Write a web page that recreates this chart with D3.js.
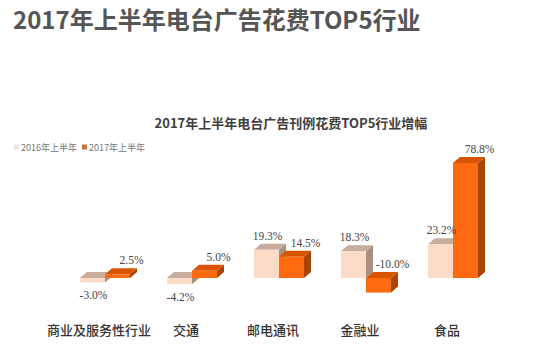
<!DOCTYPE html>
<html>
<head>
<meta charset="utf-8">
<script src="https://cdn.jsdelivr.net/npm/d3@7"></script>
<style>
  html, body { margin: 0; padding: 0; background: #ffffff; }
  svg { display: block; }
</style>
</head>
<body>
<svg id="chart" width="545" height="355"></svg>
<script>
const categories = ["商业及服务性行业", "交通", "邮电通讯", "金融业", "食品"];
const seriesNames = ["2016年上半年", "2017年上半年"];
const values2016 = [-3.0, -4.2, 19.3, 18.3, 23.2];
const values2017 = [2.5, 5.0, 14.5, -10.0, 78.8];
const mainTitle = "2017年上半年电台广告花费TOP5行业";
const chartTitle = "2017年上半年电台广告刊例花费TOP5行业增幅";

const svg = d3.select("#chart");
const W = 545, H = 355;
svg.append("rect").attr("width", W).attr("height", H).attr("fill", "#ffffff");

const cjk = "'Noto Sans CJK SC', 'Noto Sans', sans-serif";
const serif = "'Liberation Serif', 'DejaVu Serif', serif";

// Titles
svg.append("text").attr("x", 13).attr("y", 29)
  .attr("font-family", cjk).attr("font-weight", "bold").attr("font-size", 24)
  .attr("fill", "#555555").text(mainTitle);

svg.append("text").attr("x", 291).attr("y", 128)
  .attr("text-anchor", "middle")
  .attr("font-family", cjk).attr("font-weight", "bold").attr("font-size", 13)
  .attr("fill", "#404040").text(chartTitle);

// Scales
const x = d3.scaleBand().domain(categories).range([61.5, 496.5]).padding(0);
const xs = d3.scaleBand().domain(seriesNames).range([-25, 25]).padding(0);
const y = d3.scaleLinear().domain([0, 78.8]).range([278, 163]);

const depthX = 7, depthY = 6;
const palettes = [
  { front: "#fcdcc7", top: "#c7ad9b", side: "#a98f7f", legend: "#f3e3d8" },
  { front: "#fd6a10", top: "#d85400", side: "#a94300", legend: "#c8733a" }
];

const data = [];
categories.forEach((c, i) => {
  data.push({ cat: c, s: 0, v: values2016[i] });
  data.push({ cat: c, s: 1, v: values2017[i] });
});

const g = svg.append("g");
data.forEach(d => {
  const cx = x(d.cat) + x.bandwidth() / 2;
  const x0 = cx + xs(seriesNames[d.s]);
  const x1 = x0 + xs.bandwidth();
  const yTop = y(Math.max(d.v, 0));
  const yBot = y(Math.min(d.v, 0));
  const p = palettes[d.s];
  const bar = g.append("g");
  bar.append("polygon")
    .attr("points", [[x1, yTop], [x1 + depthX, yTop - depthY], [x1 + depthX, yBot - depthY], [x1, yBot]].map(q => q.join(",")).join(" "))
    .attr("fill", p.side);
  bar.append("polygon")
    .attr("points", [[x0, yTop], [x0 + depthX, yTop - depthY], [x1 + depthX, yTop - depthY], [x1, yTop]].map(q => q.join(",")).join(" "))
    .attr("fill", p.top);
  bar.append("rect")
    .attr("x", x0).attr("y", yTop)
    .attr("width", x1 - x0).attr("height", Math.max(yBot - yTop, 0.5))
    .attr("fill", p.front);
});

// Value labels
data.forEach(d => {
  const cx = x(d.cat) + x.bandwidth() / 2;
  const bx = cx + xs(seriesNames[d.s]) + xs.bandwidth() / 2;
  let lx, ly;
  if (d.s === 0) {
    lx = bx + 1;
    ly = d.v >= 0 ? y(d.v) - 10 : y(d.v) + 17;
  } else {
    lx = bx + 14;
    ly = y(Math.max(d.v, 0)) - 10;
  }
  svg.append("text").attr("x", lx).attr("y", ly)
    .attr("text-anchor", "middle")
    .attr("font-family", serif).attr("font-size", 11.5)
    .attr("fill", "#444444")
    .text(d.v.toFixed(1) + "%");
});

// Category labels
svg.append("g").selectAll("text").data(categories).join("text")
  .attr("x", c => x(c) + x.bandwidth() / 2 - 6)
  .attr("y", 335)
  .attr("text-anchor", "middle")
  .attr("font-family", cjk).attr("font-size", 13).attr("font-weight", 500)
  .attr("fill", "#333333")
  .text(c => c);

// Legend
const legend = svg.append("g");
const legendX = [14, 82];
seriesNames.forEach((s, i) => {
  legend.append("rect").attr("x", legendX[i]).attr("y", 144.5)
    .attr("width", 5).attr("height", 5).attr("fill", palettes[i].legend);
  legend.append("text").attr("x", legendX[i] + 7).attr("y", 150.5)
    .attr("font-family", cjk).attr("font-size", 9)
    .attr("fill", "#777777").text(s);
});
</script>
</body>
</html>
